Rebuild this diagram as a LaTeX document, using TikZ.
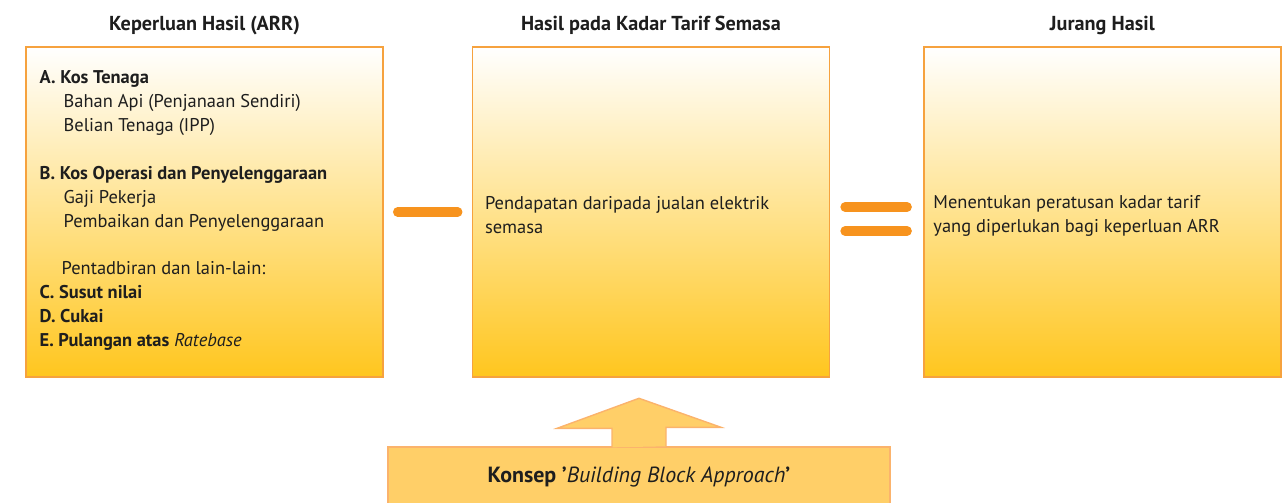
\documentclass[tikz,border=0pt]{standalone}
\usepackage{fontspec}
\setmainfont{PT Sans}
\usetikzlibrary{positioning,calc}
\definecolor{ink}{HTML}{1E1E1E}
\definecolor{edge}{HTML}{F6A23E}
\definecolor{gold}{HTML}{FFC61E}
\definecolor{bar}{HTML}{F7931E}
\definecolor{block}{HTML}{FFCF68}
\definecolor{blockedge}{HTML}{FBB36C}

\begin{document}
\begin{tikzpicture}[
  ink,
  panel/.style={draw=edge, line width=0.8pt, top color=white, bottom color=gold,
                minimum width=7.14cm, minimum height=6.6cm, inner sep=0pt},
  head/.style={font=\fontsize{11.5}{14}\selectfont\bfseries, anchor=base},
  body/.style={font=\fontsize{10.5}{13.6}\selectfont, align=left, inner sep=0pt},
  sign/.style={draw=bar, line width=5.4pt, line cap=round},
  blk/.style={draw=blockedge, fill=block, line width=0.8pt},
]
\useasboundingbox (0,0) rectangle (25.74,10.04);

% ---- three panels -----------------------------------------------------------
\node[panel] (arr) at (4.09,5.80) {};
\node[panel, right=1.76cm of arr] (hasil) {};
\node[panel, right=1.86cm of hasil] (jurang) {};

\node[head] (t1) at ($(arr.north)+(0,0.32)$) {Keperluan Hasil (ARR)};
\node[head] (t2) at ($(hasil.north)+(0,0.32)$) {Hasil pada Kadar Tarif Semasa};
\node[head] (t3) at ($(jurang.north)+(0,0.32)$) {Jurang Hasil};

% ---- panel texts ------------------------------------------------------------
\node[body, anchor=north west] (kos) at ($(arr.north west)+(0.28,-0.48)$) {
  \textbf{A. Kos Tenaga}\\
  \hspace*{0.48cm}Bahan Api (Penjanaan Sendiri)\\
  \hspace*{0.48cm}Belian Tenaga (IPP)\\[13.6pt]
  \textbf{B. Kos Operasi dan Penyelenggaraan}\\
  \hspace*{0.48cm}Gaji Pekerja\\
  \hspace*{0.48cm}Pembaikan dan Penyelenggaraan\\[13.6pt]
  \hspace*{0.44cm}Pentadbiran dan lain-lain:\\
  \textbf{C. Susut nilai}\\
  \textbf{D. Cukai}\\
  \textbf{E. Pulangan atas} {\itshape Ratebase}
};
\node[body, anchor=west] (jualan) at ($(hasil.west)+(0.26,-0.07)$)
  {Pendapatan daripada jualan elektrik\\semasa};
\node[body, anchor=west] (tarif) at ($(jurang.west)+(0.20,-0.07)$)
  {Menentukan peratusan kadar tarif\\yang diperlukan bagi keperluan ARR};

% ---- minus and equals -------------------------------------------------------
\draw[sign] ($(arr.east)+(0.28,0)$) -- ($(hasil.west)+(-0.28,0)$);
\draw[sign] ($(hasil.east)+(0.30,0.10)$) -- ($(jurang.west)+(-0.32,0.10)$);
\draw[sign] ($(hasil.east)+(0.30,-0.38)$) -- ($(jurang.west)+(-0.32,-0.38)$);

% ---- building block ---------------------------------------------------------
\node[blk, minimum width=10.04cm, minimum height=1.2cm,
      font=\fontsize{12.5}{14}\selectfont] (konsep) at (12.78,0.5)
  {\textbf{Konsep '}\textit{Building Block Approach}\textbf{'}};
\draw[blk] ([xshift=-0.54cm,yshift=-0.6pt]konsep.north) -- ++(0,0.38)
  -- ++(-1.1,0) -- ([yshift=0.96cm]konsep.north) -- ++(1.64,-0.58)
  -- ++(-1.1,0) -- ++(0,-0.38);

\end{tikzpicture}
\end{document}
